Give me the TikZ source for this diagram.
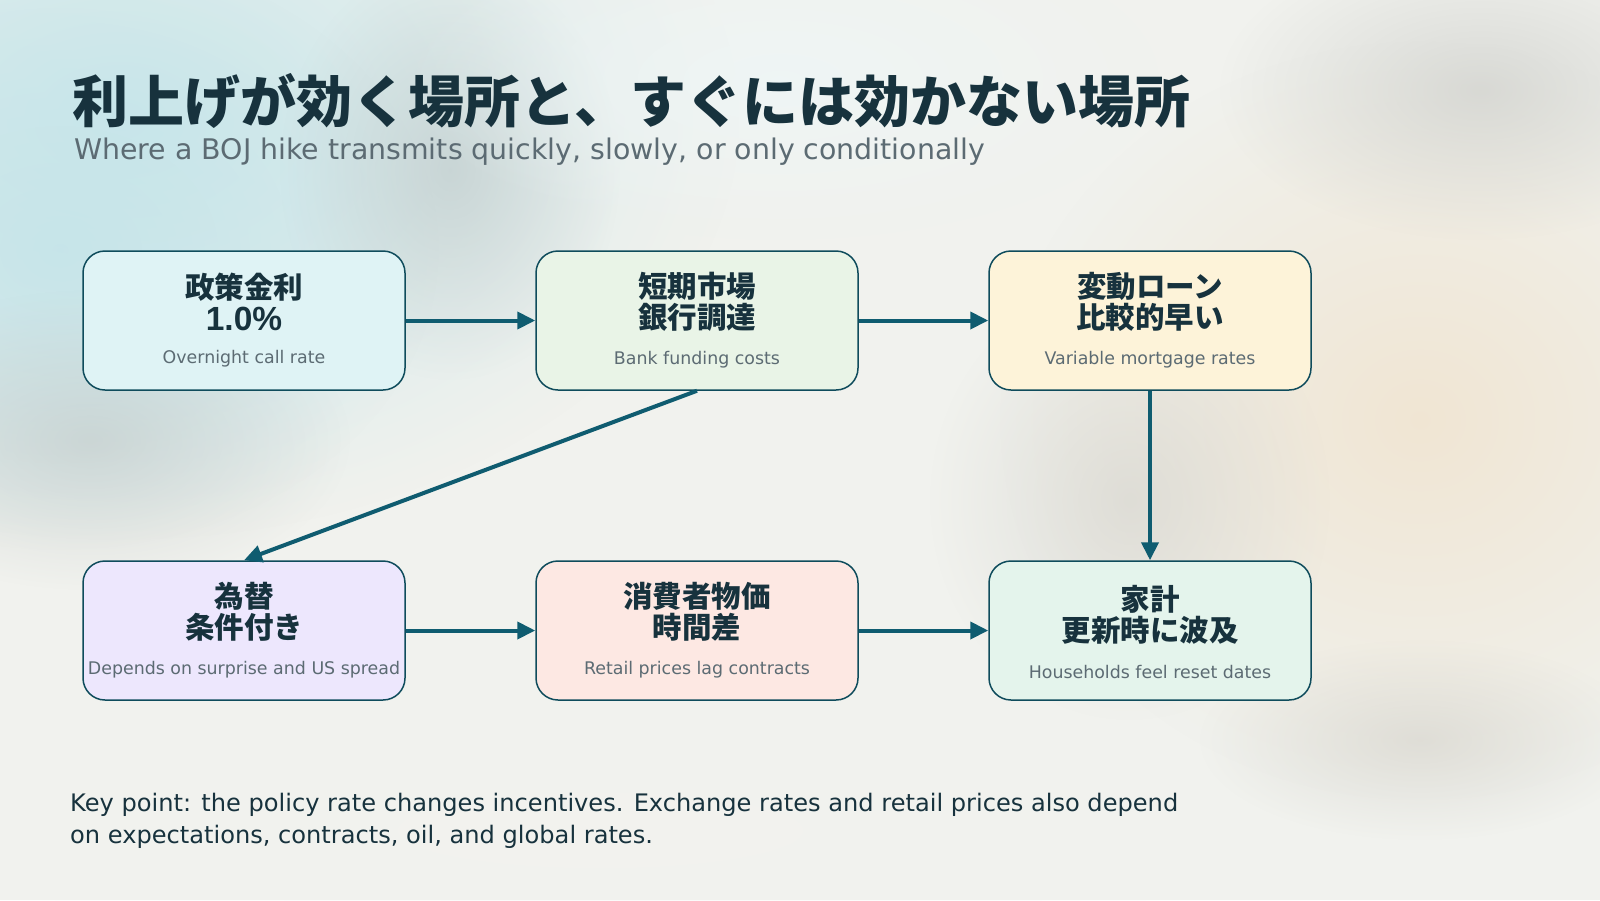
\documentclass[tikz,border=0pt]{standalone}
\usepackage{fontspec}
\setmainfont{Noto Sans CJK JP}
\newfontfamily\latinfont{DejaVu Sans}
\newfontfamily\numfont{Liberation Sans}
\usetikzlibrary{arrows.meta,fadings}
\tikzfading[name=softblob, inner color=transparent!0, outer color=transparent!100]
\definecolor{bgbase}{HTML}{F1F2EE}
\definecolor{ink}{HTML}{17323D}
\definecolor{subgray}{HTML}{5C6B73}
\definecolor{edge}{HTML}{0F4C5C}
\definecolor{arrowc}{HTML}{0F5C70}
\definecolor{c1}{HTML}{DFF3F5}
\definecolor{c2}{HTML}{E9F4E7}
\definecolor{c3}{HTML}{FDF3D9}
\definecolor{c4}{HTML}{EDE7FD}
\definecolor{c5}{HTML}{FDE8E3}
\definecolor{c6}{HTML}{E4F4EC}
\definecolor{bgA}{HTML}{C9E7EB}
\definecolor{bgB}{HTML}{C4E4E9}
\definecolor{bgC}{HTML}{BAC6C7}
\definecolor{bgD}{HTML}{C0C8C7}
\definecolor{bgE}{HTML}{F0E5D2}
\definecolor{bgF}{HTML}{D0D1CD}
\definecolor{bgG}{HTML}{D5D4CE}
\definecolor{bgH}{HTML}{D6D4CD}
\definecolor{bgI}{HTML}{EEF6F7}
\definecolor{bgJ}{HTML}{F3F3EF}
\tikzset{
  card/.style={draw=edge, line width=1.5pt, rounded corners=22pt, minimum width=322pt, minimum height=139pt, inner sep=0pt},
  cardtitle/.style={font=\bfseries\fontsize{29.5}{31.5}\selectfont, text=ink, align=center, inner sep=0pt},
  cardsub/.style={font=\latinfont\fontsize{17.4}{20}\selectfont, text=subgray, inner sep=0pt},
  flow/.style={draw=arrowc, line width=4pt, -{Triangle[length=18pt,width=17pt]}},
  blob/.style={path fading=softblob}
}
\begin{document}
\begin{tikzpicture}[x=1pt,y=-1pt]
\useasboundingbox (0,0) rectangle (1600,900);
% background
\fill[bgbase] (0,0) rectangle (1600,900);
\begin{scope}
\clip (0,0) rectangle (1600,900);
\fill[bgA, blob, opacity=0.95] (120,120) ellipse (620pt and 420pt);
\fill[bgB, blob, opacity=0.85] (60,250) ellipse (380pt and 300pt);
\fill[bgC, blob, opacity=0.6] (450,170) ellipse (170pt and 210pt);
\fill[bgD, blob, opacity=0.6] (90,440) ellipse (260pt and 150pt);
\fill[bgE, blob, opacity=0.95] (1420,420) ellipse (420pt and 380pt);
\fill[bgF, blob, opacity=0.75] (1480,90) ellipse (260pt and 150pt);
\fill[bgG, blob, opacity=0.65] (1130,500) ellipse (200pt and 220pt);
\fill[bgH, blob, opacity=0.65] (1420,740) ellipse (220pt and 100pt);
\fill[bgI, blob, opacity=0.8] (780,80) ellipse (380pt and 160pt);
\fill[bgJ, blob, opacity=0.7] (600,830) ellipse (700pt and 130pt);
\end{scope}
% title
\node[anchor=west, inner sep=0pt, text=ink, font=\bfseries\fontsize{56}{60}\selectfont] (title) at (72,101) {利上げが効く場所と、すぐには効かない場所};
\node[anchor=west, inner sep=0pt, text=subgray, font=\latinfont\fontsize{28.4}{32}\selectfont] (subtitle) at (74,152) {Where a BOJ hike transmits quickly, slowly, or only conditionally};
% cards
\node[card, fill=c1] (b1) at (244,320.5) {};
\node[card, fill=c2] (b2) at (697,320.5) {};
\node[card, fill=c3] (b3) at (1150,320.5) {};
\node[card, fill=c4] (b4) at (244,630.5) {};
\node[card, fill=c5] (b5) at (697,630.5) {};
\node[card, fill=c6] (b6) at (1150,630.5) {};
% card texts
\node[cardtitle] (t1) at (244,302) {政策金利\\{\numfont\bfseries\fontsize{33.5}{31}\selectfont 1.0\%}};
\node[cardsub] (s1) at (244,359) {Overnight call rate};
\node[cardtitle] (t2) at (697,302) {短期市場\\銀行調達};
\node[cardsub] (s2) at (697,360) {Bank funding costs};
\node[cardtitle] (t3) at (1150,302) {変動ローン\\比較的早い};
\node[cardsub] (s3) at (1150,360) {Variable mortgage rates};
\node[cardtitle] (t4) at (244,612) {為替\\条件付き};
\node[cardsub] (s4) at (244,670) {Depends on surprise and US spread};
\node[cardtitle] (t5) at (697,612) {消費者物価\\時間差};
\node[cardsub] (s5) at (697,670) {Retail prices lag contracts};
\node[cardtitle] (t6) at (1150,615) {家計\\更新時に波及};
\node[cardsub] (s6) at (1150,672) {Households feel reset dates};
% connectors
\draw[flow] (b1.east) -- (b2.west);
\draw[flow] (b2.east) -- (b3.west);
\draw[flow] (b3.south) -- (b6.north);
\draw[flow] (b2.south) -- (b4.north);
\draw[flow] (b4.east) -- (b5.west);
\draw[flow] (b5.east) -- (b6.west);
% footer
\node[anchor=north west, inner sep=0pt, text=ink, align=left, font=\latinfont\fontsize{24.1}{32}\selectfont] (foot) at (70,793) {Key point: the policy rate changes incentives. Exchange rates and retail prices also depend\\on expectations, contracts, oil, and global rates.};
\end{tikzpicture}
\end{document}
